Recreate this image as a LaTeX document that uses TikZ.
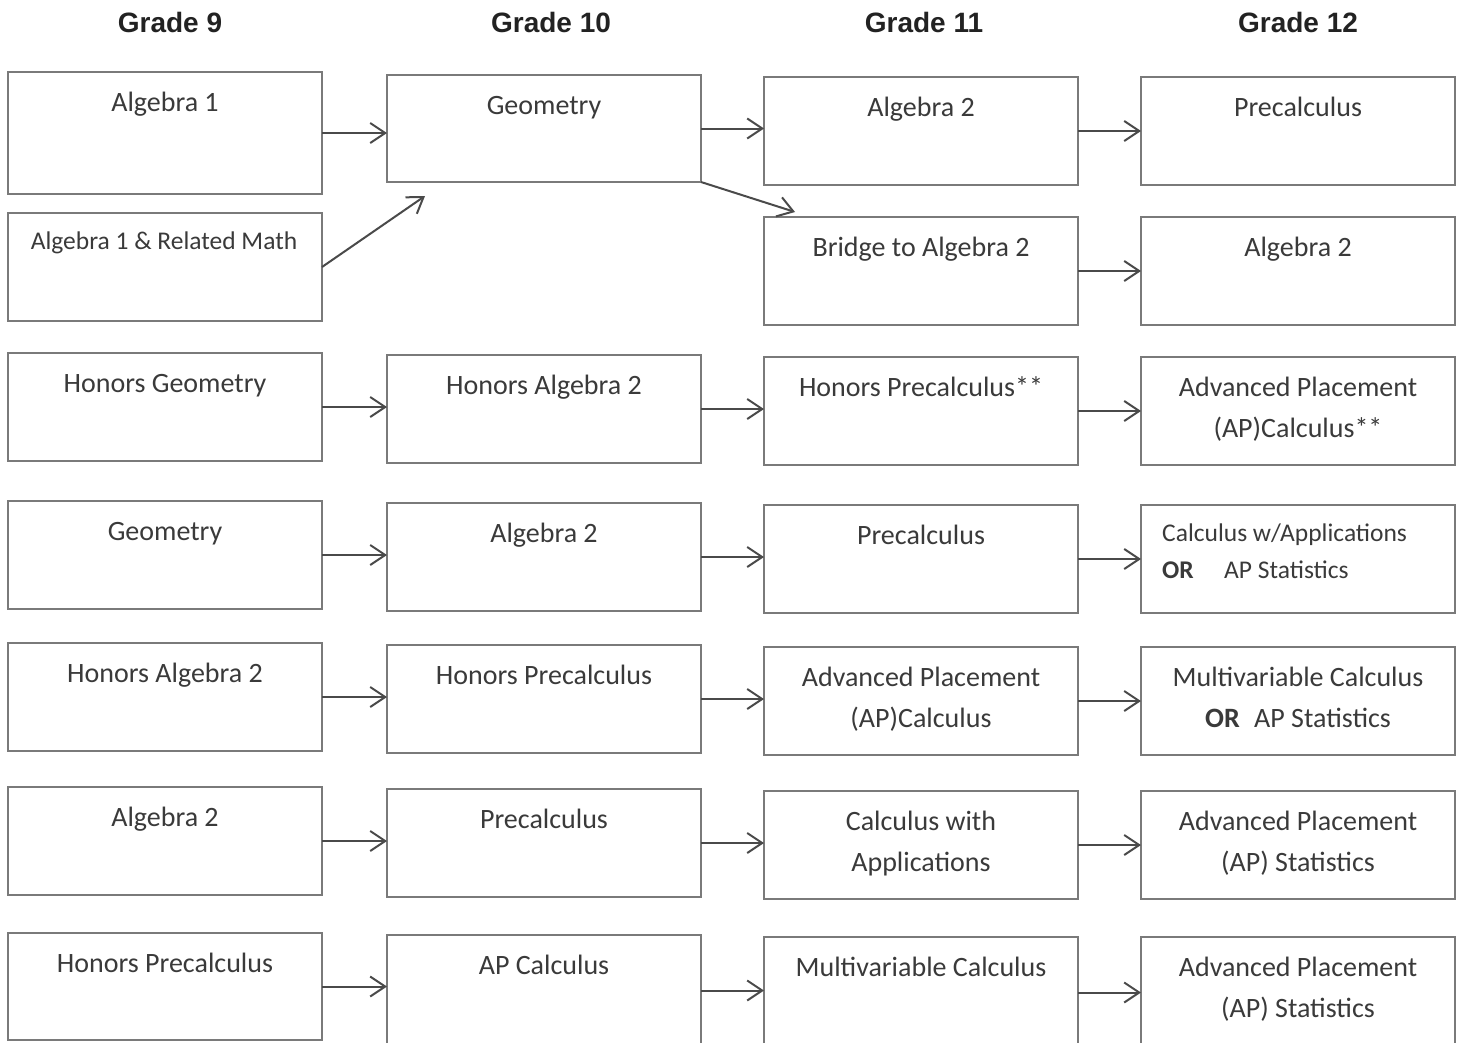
\documentclass[tikz,border=0pt]{standalone}
\usepackage{fontspec}
\setmainfont{Carlito}
\newfontfamily\hdrfont{Liberation Sans}
\usetikzlibrary{arrows.meta,calc}
\definecolor{boxc}{HTML}{7A7A7A}
\definecolor{arrc}{HTML}{4A4A4A}
\definecolor{txtc}{HTML}{3A3A3A}
\definecolor{hdrc}{HTML}{222222}
\tikzset{
  box/.style={draw=boxc, line width=2.6pt, fill=white, inner sep=0pt, outer sep=0pt,
              minimum width=314pt, anchor=north west},
  txt/.style={text=txtc, inner sep=0pt, anchor=base, font=\fontsize{28}{41}\selectfont},
  smalltxt/.style={text=txtc, inner sep=0pt, anchor=base west, font=\fontsize{25.5}{37}\selectfont},
  hdr/.style={text=hdrc, inner sep=0pt, anchor=base, font=\hdrfont\bfseries\fontsize{28}{34}\selectfont},
  arr/.style={draw=arrc, line width=2pt, -{Straight Barb[length=15pt,width=20pt]}}
}
\newcommand\mkbox[4]{\node[box, minimum height={(#4-#3)*1pt}] (#1) at (#2,#3) {};}
\newcommand\mktxt[3]{\node[txt] (#1-t) at ($(#1.north)+(0,39)$) {#2};%
  \if\relax\detokenize{#3}\relax\else\node[txt] (#1-u) at ($(#1.north)+(0,80)$) {#3};\fi}
\begin{document}
\begin{tikzpicture}[x=1pt,y=-1pt]
\useasboundingbox[fill=white] (0,0) rectangle (1463,1042);
% headers
\node[hdr] (h9)  at (170,32) {Grade 9};
\node[hdr] (h10) at (551,32) {Grade 10};
\node[hdr] (h11) at (924,32) {Grade 11};
\node[hdr] (h12) at (1298,32) {Grade 12};
% row 1
\mkbox{a1}{8}{72}{194}
\mkbox{a2}{387}{75}{182}
\mkbox{a3}{764}{77}{185}
\mkbox{a4}{1141}{77}{185}
% row 1b
\mkbox{b1}{8}{213}{321}
\mkbox{b3}{764}{217}{325}
\mkbox{b4}{1141}{217}{325}
% row 2
\mkbox{c1}{8}{353}{461}
\mkbox{c2}{387}{355}{463}
\mkbox{c3}{764}{357}{465}
\mkbox{c4}{1141}{357}{465}
% row 3
\mkbox{d1}{8}{501}{609}
\mkbox{d2}{387}{503}{611}
\mkbox{d3}{764}{505}{613}
\mkbox{d4}{1141}{505}{613}
% row 4
\mkbox{e1}{8}{643}{751}
\mkbox{e2}{387}{645}{753}
\mkbox{e3}{764}{647}{755}
\mkbox{e4}{1141}{647}{755}
% row 5
\mkbox{f1}{8}{787}{895}
\mkbox{f2}{387}{789}{897}
\mkbox{f3}{764}{791}{899}
\mkbox{f4}{1141}{791}{899}
% row 6
\mkbox{g1}{8}{933}{1040}
\mkbox{g2}{387}{935}{1046}
\mkbox{g3}{764}{937}{1048}
\mkbox{g4}{1141}{937}{1048}
% texts
\mktxt{a1}{Algebra 1}{}
\mktxt{a2}{Geometry}{}
\mktxt{a3}{Algebra 2}{}
\mktxt{a4}{Precalculus}{}
\node[text=txtc, inner sep=0pt, anchor=base, font=\fontsize{25.5}{37}\selectfont] (b1-t) at ($(b1.north)+(-1,36)$) {Algebra 1 \& Related Math};
\mktxt{b3}{Bridge to Algebra 2}{}
\mktxt{b4}{Algebra 2}{}
\mktxt{c1}{Honors Geometry}{}
\mktxt{c2}{Honors Algebra 2}{}
\mktxt{c3}{Honors Precalculus**}{}
\mktxt{c4}{Advanced Placement}{(AP)Calculus**}
\mktxt{d1}{Geometry}{}
\mktxt{d2}{Algebra 2}{}
\mktxt{d3}{Precalculus}{}
\node[smalltxt] (d4-t) at ($(d4.north west)+(21,36)$) {Calculus w/Applications};
\node[smalltxt, font=\bfseries\fontsize{25.5}{37}\selectfont] (d4-u) at ($(d4.north west)+(21,73)$) {OR};
\node[smalltxt] (d4-v) at ($(d4.north west)+(83,73)$) {AP Statistics};
\mktxt{e1}{Honors Algebra 2}{}
\mktxt{e2}{Honors Precalculus}{}
\mktxt{e3}{Advanced Placement}{(AP)Calculus}
\mktxt{e4}{Multivariable Calculus}{\textbf{OR}\hspace{8pt} AP Statistics}
\mktxt{f1}{Algebra 2}{}
\mktxt{f2}{Precalculus}{}
\mktxt{f3}{Calculus with}{Applications}
\mktxt{f4}{Advanced Placement}{(AP) Statistics}
\mktxt{g1}{Honors Precalculus}{}
\mktxt{g2}{AP Calculus}{}
\mktxt{g3}{Multivariable Calculus}{}
\mktxt{g4}{Advanced Placement}{(AP) Statistics}
% arrows
\foreach \r in {a,c,d,e,f,g}{
  \draw[arr] (\r1.east) -- (\r1.east -| \r2.west);
  \draw[arr] (\r2.east) -- (\r2.east -| \r3.west);
  \draw[arr] (\r3.east) -- (\r3.east -| \r4.west);
}
\draw[arr] (b3.east) -- (b3.east -| b4.west);
\coordinate (tipA) at (425,196);
\coordinate (tipB) at (795,212);
\draw[arr] (b1.east) -- (tipA);
\draw[arr] (a2.south east) -- (tipB);
\end{tikzpicture}
\end{document}
